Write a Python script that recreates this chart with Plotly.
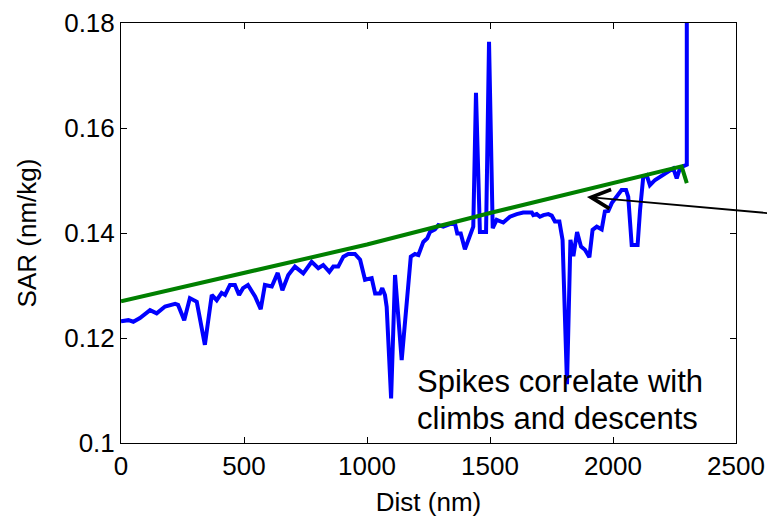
import plotly.graph_objects as go

# Specific air range along the route (blue) and the smooth reference trend (green)
dist_nm = [0, 30, 50, 77, 118, 145, 179, 220, 232, 257, 280, 308, 341, 369, 389, 409, 423,
           443, 463, 480, 496, 516, 545, 568, 585, 613, 637, 656, 680, 707, 741, 775, 802,
           822, 847, 863, 883, 904, 924, 951, 972, 992, 1019, 1033, 1053, 1062, 1073, 1080,
           1098, 1114, 1141, 1156, 1178, 1195, 1209, 1229, 1245, 1256, 1276, 1290, 1310,
           1337, 1358, 1367, 1381, 1398, 1419, 1432, 1443, 1459, 1484, 1496, 1511, 1527,
           1554, 1581, 1609, 1635, 1670, 1676, 1690, 1703, 1717, 1737, 1751, 1764, 1782,
           1795, 1813, 1827, 1839, 1854, 1870, 1886, 1904, 1917, 1934, 1954, 1967, 1981,
           1995, 2015, 2035, 2053, 2062, 2076, 2100, 2110, 2123, 2137, 2150, 2171, 2191,
           2211, 2232, 2245, 2259, 2272, 2289, 2300, 2300]
sar = [0.1232, 0.1234, 0.1231, 0.1238, 0.1253, 0.1247, 0.1260, 0.1265, 0.1263, 0.1234,
       0.1276, 0.1269, 0.1187, 0.1282, 0.1272, 0.1286, 0.1282, 0.1301, 0.1301, 0.1282,
       0.1295, 0.1301, 0.1279, 0.1255, 0.1301, 0.1298, 0.1324, 0.1291, 0.1320, 0.1336,
       0.1323, 0.1345, 0.1333, 0.1339, 0.1326, 0.1336, 0.1336, 0.1355, 0.1360, 0.1360,
       0.1349, 0.1311, 0.1314, 0.1285, 0.1285, 0.1295, 0.1282, 0.1259, 0.1085, 0.1320,
       0.1158, 0.1234, 0.1355, 0.1360, 0.1358, 0.1383, 0.1390, 0.1402, 0.1407, 0.1415,
       0.1412, 0.1417, 0.1417, 0.1399, 0.1399, 0.1369, 0.1399, 0.1412, 0.1667, 0.1402,
       0.1402, 0.1764, 0.1409, 0.1425, 0.1420, 0.1431, 0.1436, 0.1439, 0.1439, 0.1434,
       0.1436, 0.1431, 0.1434, 0.1436, 0.1433, 0.1422, 0.1422, 0.1387, 0.1112, 0.1387,
       0.1356, 0.1402, 0.1374, 0.1368, 0.1354, 0.1406, 0.1412, 0.1407, 0.1441, 0.1442,
       0.1457, 0.1469, 0.1482, 0.1482, 0.1469, 0.1377, 0.1377, 0.1444, 0.1507, 0.1510,
       0.1491, 0.1501, 0.1507, 0.1514, 0.1519, 0.1523, 0.1504, 0.1523, 0.1528, 0.1530,
       0.2000]

trend_dist = [0, 500, 1000, 1500, 2000, 2279, 2300]
trend_sar = [0.1270, 0.1324, 0.1378, 0.1438, 0.1496, 0.1527, 0.1495]

x_ticks = [0, 500, 1000, 1500, 2000, 2500]
y_ticks = [0.1, 0.12, 0.14, 0.16, 0.18]
y_tick_text = ["0.1", "0.12", "0.14", "0.16", "0.18"]

note_lines = ["Spikes correlate with", "climbs and descents"]

FONT = "Liberation Sans, Arial, Helvetica, sans-serif"

fig = go.Figure()
fig.add_trace(go.Scatter(x=dist_nm, y=sar, mode="lines",
                         line=dict(color="#0000FF", width=4), showlegend=False))
fig.add_trace(go.Scatter(x=trend_dist, y=trend_sar, mode="lines",
                         line=dict(color="#008000", width=4), showlegend=False))

axis_common = dict(showline=True, linecolor="black", linewidth=1, mirror="ticks",
                   ticks="inside", ticklen=6, tickcolor="black", tickwidth=1,
                   showgrid=False, zeroline=False, automargin=False,
                   tickfont=dict(family=FONT, size=26, color="black"))

fig.update_xaxes(range=[0, 2500], tickvals=x_ticks,
                 title=dict(text="Dist (nm)", font=dict(family=FONT, size=26, color="black"),
                            standoff=15),
                 **axis_common)
fig.update_yaxes(range=[0.1, 0.18], tickvals=y_ticks, ticktext=y_tick_text,
                 title=dict(text="SAR (nm/kg)", font=dict(family=FONT, size=26, color="black"),
                            standoff=20),
                 **axis_common)

# Explanatory note inside the axes
for text, y in zip(note_lines, [0.1117, 0.1047]):
    fig.add_annotation(x=1195, y=y, xref="x", yref="y", text=text, showarrow=False,
                       xanchor="left", yanchor="middle",
                       font=dict(family=FONT, size=31, color="black"))

# Pointer onto the trend line, coming in from the right
fig.add_annotation(x=1894, y=0.14686, xref="x", yref="y",
                   ax=2699, ay=0.1435, axref="x", ayref="y",
                   text="", showarrow=True, arrowhead=5, arrowsize=2.1,
                   arrowwidth=1.8, arrowcolor="black")

fig.update_layout(width=767, height=517,
                  margin=dict(l=121, r=31, t=23, b=74, autoexpand=False),
                  paper_bgcolor="white", plot_bgcolor="white",
                  font=dict(family=FONT, color="black"))

fig.write_html("out.html")
